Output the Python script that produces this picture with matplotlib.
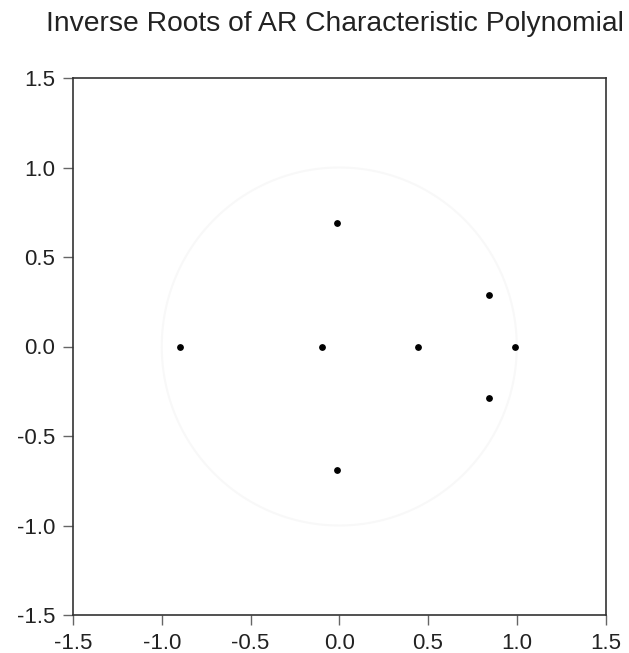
import numpy as np
import matplotlib.pyplot as plt

# Inverse roots (real, imaginary)
root_re = [-0.895, -0.10, -0.014, -0.014, 0.444, 0.842, 0.842, 0.989]
root_im = [0.0, 0.0, 0.69, -0.69, 0.0, 0.288, -0.288, 0.0]
ticks = [-1.5, -1.0, -0.5, 0.0, 0.5, 1.0, 1.5]

plt.rcParams['font.family'] = ['Liberation Sans', 'DejaVu Sans']

fig = plt.figure(figsize=(6.29, 6.53), dpi=100)
ax = fig.add_axes([73 / 629, 38 / 653, 532.5 / 629, 537 / 653])

# unit circle, drawn very faint like the original
theta = np.linspace(0, 2 * np.pi, 400)
ax.plot(np.cos(theta), np.sin(theta), color='#f8f8f8', lw=1.5, zorder=1)

ax.scatter(root_re, root_im, s=15, color='black', zorder=3)

ax.set_xlim(-1.5, 1.5)
ax.set_ylim(-1.5, 1.5)
ax.set_xticks(ticks)
ax.set_yticks(ticks)
ax.set_xticklabels([f'{t:.1f}' for t in ticks])
ax.set_yticklabels([f'{t:.1f}' for t in ticks])
ax.tick_params(direction='out', length=7, width=1, pad=6, labelsize=16,
               color='#666666', labelcolor='#222222')
for s in ax.spines.values():
    s.set_color('#333333')
    s.set_linewidth(1.2)

fig.text(334.5 / 629, 1 - 31 / 653, 'Inverse Roots of AR Characteristic Polynomial',
         ha='center', va='baseline', fontsize=20.3, color='#222222')

fig.savefig('out.png', dpi=100)
